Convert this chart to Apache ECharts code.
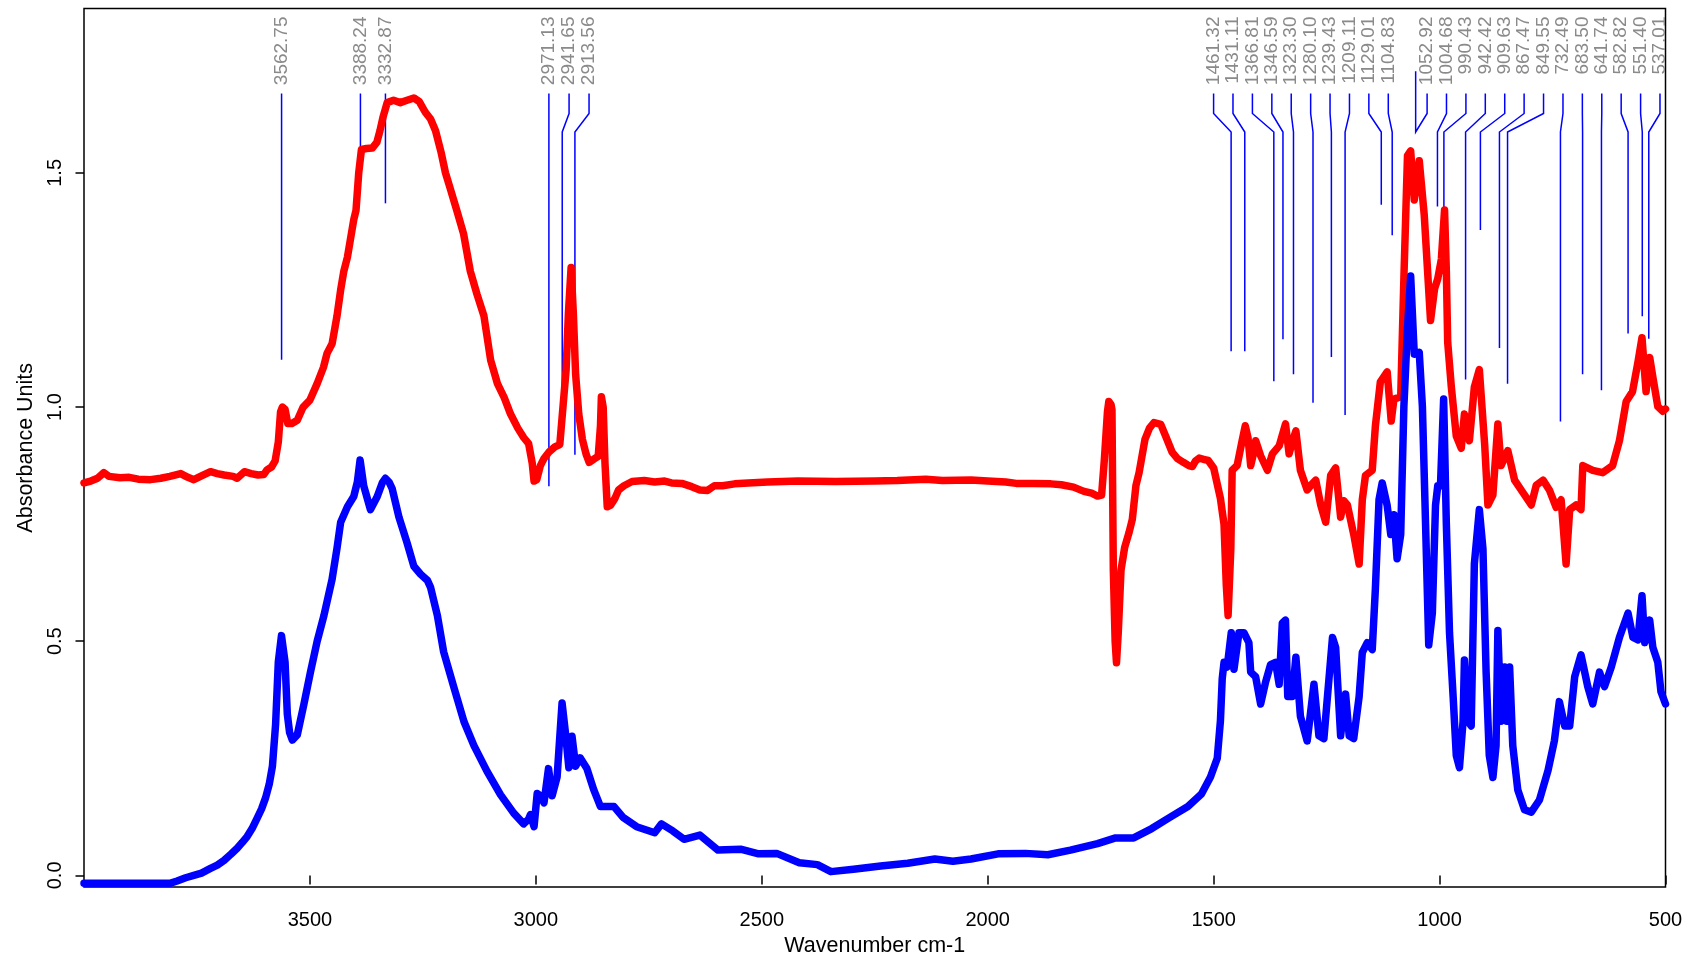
<!DOCTYPE html>
<html>
<head>
<meta charset="utf-8">
<script src="https://cdn.jsdelivr.net/npm/echarts@6/dist/echarts.min.js"></script>
<style>
html,body{margin:0;padding:0;background:#fff;}
#chart{width:1688px;height:962px;}
</style>
</head>
<body>
<div id="chart"></div>
<script>
// ---- Red spectrum (wavenumber, absorbance) ----
const redWn = [4000,3985,3970,3956,3945,3920,3900,3880,3853,3830,3810,3786,3770,3757,3740,3720,3705,3690,3670,3661,3645,3630,3615,3602,3595,3585,3577,3570,3565,3561,3555,3549,3540,3528,3515,3500,3484,3470,3462,3451,3440,3432,3425,3417,3410,3403,3398,3392,3386,3375,3362,3352,3345,3338,3329,3315,3300,3285,3270,3258,3245,3233,3222,3210,3200,3189,3175,3160,3145,3130,3115,3100,3085,3070,3056,3040,3027,3016,3008,3004,2998,2990,2982,2970,2958,2947,2940,2933,2928,2922,2917,2912,2905,2897,2889,2882,2870,2862,2857,2855,2851,2847,2842,2835,2825,2817,2805,2787,2760,2737,2715,2700,2677,2655,2637,2620,2605,2587,2560,2530,2487,2420,2337,2250,2200,2137,2100,2037,2000,1960,1937,1900,1860,1837,1810,1787,1770,1757,1748,1742,1735,1732,1727,1725,1722,1718,1715,1711,1705,1697,1687,1680,1672,1665,1652,1642,1632,1617,1605,1592,1580,1567,1555,1547,1540,1532,1520,1512,1500,1485,1477,1472,1468,1462,1459,1448,1437,1430,1424,1418,1412,1407,1396,1381,1370,1355,1341,1333,1326,1318,1308,1293,1283,1274,1263,1252,1241,1230,1219,1212,1204,1190,1178,1171,1164,1149,1142,1131,1116,1107,1101,1086,1079,1071,1064,1056,1045,1034,1020,1011,1004,996,989,985,982,974,963,952,945,934,923,912,900,893,882,871,864,849,834,816,797,786,771,757,742,731,720,712,698,687,683,661,639,617,602,587,573,561,552,543,535,528,517,506,500];
const redAbs = [0.838,0.842,0.848,0.860,0.852,0.849,0.850,0.846,0.845,0.848,0.852,0.858,0.850,0.845,0.853,0.862,0.858,0.855,0.852,0.848,0.862,0.858,0.855,0.856,0.866,0.872,0.885,0.925,0.990,1.000,0.995,0.965,0.965,0.972,1.000,1.015,1.050,1.085,1.115,1.135,1.195,1.250,1.290,1.320,1.360,1.400,1.420,1.500,1.550,1.552,1.553,1.565,1.590,1.620,1.650,1.655,1.650,1.655,1.660,1.652,1.630,1.615,1.590,1.545,1.500,1.465,1.420,1.370,1.290,1.240,1.195,1.100,1.050,1.020,0.985,0.955,0.935,0.922,0.880,0.842,0.845,0.875,0.890,0.905,0.915,0.920,1.000,1.080,1.200,1.298,1.200,1.070,0.985,0.931,0.900,0.882,0.890,0.895,0.960,1.022,1.000,0.880,0.787,0.790,0.805,0.823,0.832,0.841,0.843,0.840,0.842,0.838,0.837,0.830,0.823,0.822,0.832,0.832,0.836,0.838,0.840,0.842,0.841,0.842,0.843,0.846,0.843,0.844,0.842,0.840,0.837,0.837,0.836,0.834,0.829,0.820,0.816,0.810,0.812,0.886,0.990,1.012,1.005,0.994,0.652,0.500,0.454,0.520,0.652,0.700,0.733,0.760,0.832,0.860,0.931,0.955,0.967,0.963,0.935,0.904,0.890,0.882,0.875,0.873,0.885,0.891,0.888,0.886,0.870,0.805,0.749,0.620,0.555,0.697,0.865,0.875,0.928,0.960,0.935,0.875,0.900,0.928,0.896,0.865,0.900,0.917,0.964,0.900,0.925,0.949,0.865,0.823,0.835,0.844,0.791,0.754,0.854,0.870,0.765,0.800,0.791,0.728,0.665,0.802,0.854,0.865,0.960,1.054,1.075,0.970,1.017,1.022,1.274,1.537,1.547,1.442,1.526,1.411,1.185,1.253,1.274,1.316,1.421,1.290,1.138,1.043,0.938,0.912,0.985,0.928,1.043,1.080,0.917,0.791,0.812,0.964,0.875,0.907,0.844,0.818,0.791,0.833,0.844,0.823,0.786,0.802,0.665,0.781,0.791,0.781,0.875,0.865,0.860,0.875,0.928,1.012,1.033,1.096,1.148,1.033,1.106,1.064,1.001,0.991,0.996];

// ---- Blue spectrum (wavenumber, absorbance) ----
const blueWn = [4000,3900,3810,3794,3775,3757,3740,3720,3705,3690,3675,3661,3650,3639,3628,3617,3607,3598,3590,3583,3576,3570,3563,3555,3550,3545,3539,3528,3513,3499,3484,3469,3451,3440,3432,3417,3403,3395,3389,3381,3366,3351,3340,3333,3325,3318,3303,3285,3270,3255,3240,3233,3218,3204,3181,3159,3137,3108,3078,3049,3027,3016,3012,3004,2997,2990,2982,2972,2964,2953,2942,2934,2927,2920,2912,2902,2887,2872,2857,2827,2807,2777,2737,2722,2697,2672,2637,2597,2547,2507,2467,2417,2377,2347,2297,2237,2177,2117,2077,2037,1977,1917,1867,1817,1757,1717,1677,1637,1597,1557,1527,1507,1492,1485,1481,1477,1470,1461,1455,1444,1433,1422,1418,1407,1396,1385,1374,1363,1355,1348,1341,1336,1326,1318,1308,1293,1278,1267,1256,1237,1230,1219,1208,1200,1190,1178,1171,1160,1149,1142,1134,1127,1116,1108,1101,1094,1086,1079,1071,1064,1056,1045,1038,1031,1024,1016,1009,1004,998,991,985,978,970,963,956,948,945,937,930,923,912,904,897,890,882,875,871,864,856,851,845,838,827,812,797,779,760,746,735,723,712,701,687,672,661,646,635,620,602,583,572,561,552,546,535,528,517,510,500];
const blueAbs = [-0.017,-0.017,-0.017,-0.012,-0.005,0.000,0.005,0.015,0.022,0.032,0.045,0.058,0.070,0.083,0.100,0.122,0.142,0.166,0.195,0.233,0.322,0.455,0.512,0.455,0.344,0.305,0.289,0.300,0.367,0.433,0.500,0.555,0.632,0.699,0.754,0.787,0.809,0.840,0.887,0.832,0.781,0.809,0.838,0.848,0.840,0.826,0.765,0.710,0.660,0.643,0.630,0.615,0.555,0.477,0.400,0.328,0.277,0.222,0.172,0.133,0.110,0.120,0.130,0.104,0.175,0.170,0.155,0.228,0.170,0.210,0.368,0.300,0.230,0.297,0.233,0.251,0.228,0.183,0.147,0.147,0.124,0.104,0.091,0.110,0.095,0.077,0.086,0.054,0.056,0.046,0.047,0.027,0.023,0.008,0.013,0.020,0.026,0.035,0.030,0.035,0.046,0.047,0.044,0.054,0.068,0.080,0.080,0.100,0.124,0.147,0.174,0.210,0.250,0.330,0.420,0.455,0.445,0.518,0.440,0.518,0.518,0.497,0.434,0.424,0.366,0.413,0.450,0.455,0.408,0.539,0.545,0.382,0.382,0.466,0.340,0.287,0.408,0.298,0.292,0.508,0.487,0.298,0.387,0.298,0.292,0.382,0.476,0.497,0.482,0.613,0.802,0.838,0.790,0.728,0.770,0.676,0.728,1.001,1.169,1.280,1.113,1.117,1.001,0.750,0.492,0.560,0.790,0.832,0.832,1.017,0.750,0.518,0.382,0.256,0.230,0.329,0.460,0.329,0.319,0.665,0.781,0.697,0.434,0.256,0.209,0.277,0.523,0.329,0.445,0.329,0.445,0.277,0.183,0.140,0.135,0.161,0.224,0.287,0.371,0.319,0.319,0.424,0.471,0.403,0.366,0.434,0.403,0.445,0.508,0.560,0.508,0.503,0.597,0.497,0.545,0.487,0.455,0.392,0.366];

// ---- Peak annotations ----
const peakWn      = [3562.75,3388.24,3332.87,2971.13,2941.65,2913.56,1461.32,1431.11,1366.81,1346.59,1323.30,1280.10,1239.43,1209.11,1129.01,1104.83,1052.92,1004.68,990.43,942.42,909.63,867.47,849.55,732.49,683.50,641.74,582.82,551.40,537.01];
const peakLabels  = ["3562.75","3388.24","3332.87","2971.13","2941.65","2913.56","1461.32","1431.11","1366.81","1346.59","1323.30","1280.10","1239.43","1209.11","1129.01","1104.83","1052.92","1004.68","990.43","942.42","909.63","867.47","849.55","732.49","683.50","641.74","582.82","551.40","537.01"];
const peakLabelWn = [3562.75,3388.24,3332.87,2971.13,2926.5,2882.3,1500.1,1457.2,1414.2,1371.2,1328.3,1285.3,1242.4,1199.4,1156.5,1113.5,1027.6,984.7,941.7,898.8,855.8,812.9,769.9,726.9,684.0,641.0,598.1,555.1,512.2];
const peakLineEnd = [1.101,1.556,1.435,0.831,0.95,0.898,1.119,1.119,1.055,1.145,1.07,1.009,1.107,0.983,1.432,1.367,1.717,1.428,1.40,1.059,1.378,1.126,1.050,0.969,1.07,1.036,1.157,1.194,1.146];

// ---- Axis ticks ----
const xTicks = [500,1000,1500,2000,2500,3000,3500];
const yTicks = [0,0.5,1.0,1.5];

const FONT = "'Liberation Sans', Arial, Helvetica, sans-serif";

const redData = redWn.map((w, i) => [w, redAbs[i]]);
const blueData = blueWn.map((w, i) => [w, blueAbs[i]]);
const peakData = peakWn.map((w, i) => [w, peakLabelWn[i], peakLineEnd[i], i]);

function renderPeak(params, api) {
  const cs = params.coordSys;
  const peakX = api.coord([api.value(0), 0])[0];
  const labX = api.coord([api.value(1), 0])[0];
  const endY = api.coord([0, api.value(2)])[1];
  const idx = api.value(3);
  const yTop = cs.y + 85;
  const y1 = cs.y + 105;
  const y2 = cs.y + 123.5;
  return {
    type: 'group',
    children: [
      {
        type: 'polyline',
        shape: { points: [[labX, yTop], [labX, y1], [peakX, y2], [peakX, endY]] },
        style: { stroke: '#0000FF', lineWidth: 1.5, fill: null }
      },
      {
        type: 'text',
        x: labX,
        y: cs.y + 8,
        rotation: Math.PI / 2,
        style: {
          text: peakLabels[idx],
          fill: '#8a8a8a',
          font: '19px ' + FONT,
          align: 'right',
          verticalAlign: 'middle'
        }
      }
    ]
  };
}

const chart = echarts.init(document.getElementById('chart'), null, { renderer: 'canvas' });
chart.setOption({
  animation: false,
  backgroundColor: '#ffffff',
  textStyle: { fontFamily: FONT },
  grid: {
    left: 84, right: 22.5, top: 8.5, bottom: 73,
    show: true, borderColor: '#000', borderWidth: 1.5, backgroundColor: 'transparent'
  },
  xAxis: {
    type: 'value',
    inverse: true,
    min: 500, max: 4000,
    splitLine: { show: false },
    axisLine: { show: false },
    axisTick: { show: true, inside: false, length: 9, customValues: xTicks, lineStyle: { color: '#000', width: 1.5 } },
    axisLabel: { customValues: xTicks, color: '#000', fontSize: 20, fontFamily: FONT, margin: 23,
      formatter: v => String(Math.round(v)) },
    name: 'Wavenumber cm-1',
    nameLocation: 'middle',
    nameGap: 45,
    nameTextStyle: { color: '#000', fontSize: 21.5, fontFamily: FONT }
  },
  yAxis: {
    type: 'value',
    min: -0.025, max: 1.851,
    splitLine: { show: false },
    axisLine: { show: false },
    axisTick: { show: true, inside: false, length: 8.5, customValues: yTicks, lineStyle: { color: '#000', width: 1.5 } },
    axisLabel: { customValues: yTicks, rotate: 90, color: '#000', fontSize: 20, fontFamily: FONT, margin: 19,
      formatter: v => Number(v).toFixed(1) },
    name: 'Absorbance Units',
    nameLocation: 'middle',
    nameRotate: 90,
    nameGap: 46,
    nameTextStyle: { color: '#000', fontSize: 21.5, fontFamily: FONT }
  },
  series: [
    {
      name: 'red', type: 'line', data: redData, showSymbol: false, symbol: 'none',
      lineStyle: { color: '#FF0000', width: 7.5, cap: 'round', join: 'round' },
      itemStyle: { color: '#FF0000' }, z: 2
    },
    {
      name: 'blue', type: 'line', data: blueData, showSymbol: false, symbol: 'none',
      lineStyle: { color: '#0000FF', width: 7.5, cap: 'round', join: 'round' },
      itemStyle: { color: '#0000FF' }, z: 3
    },
    {
      name: 'peaks', type: 'custom', data: peakData, renderItem: renderPeak, clip: false, z: 1, silent: true
    }
  ]
});
</script>
</body>
</html>
